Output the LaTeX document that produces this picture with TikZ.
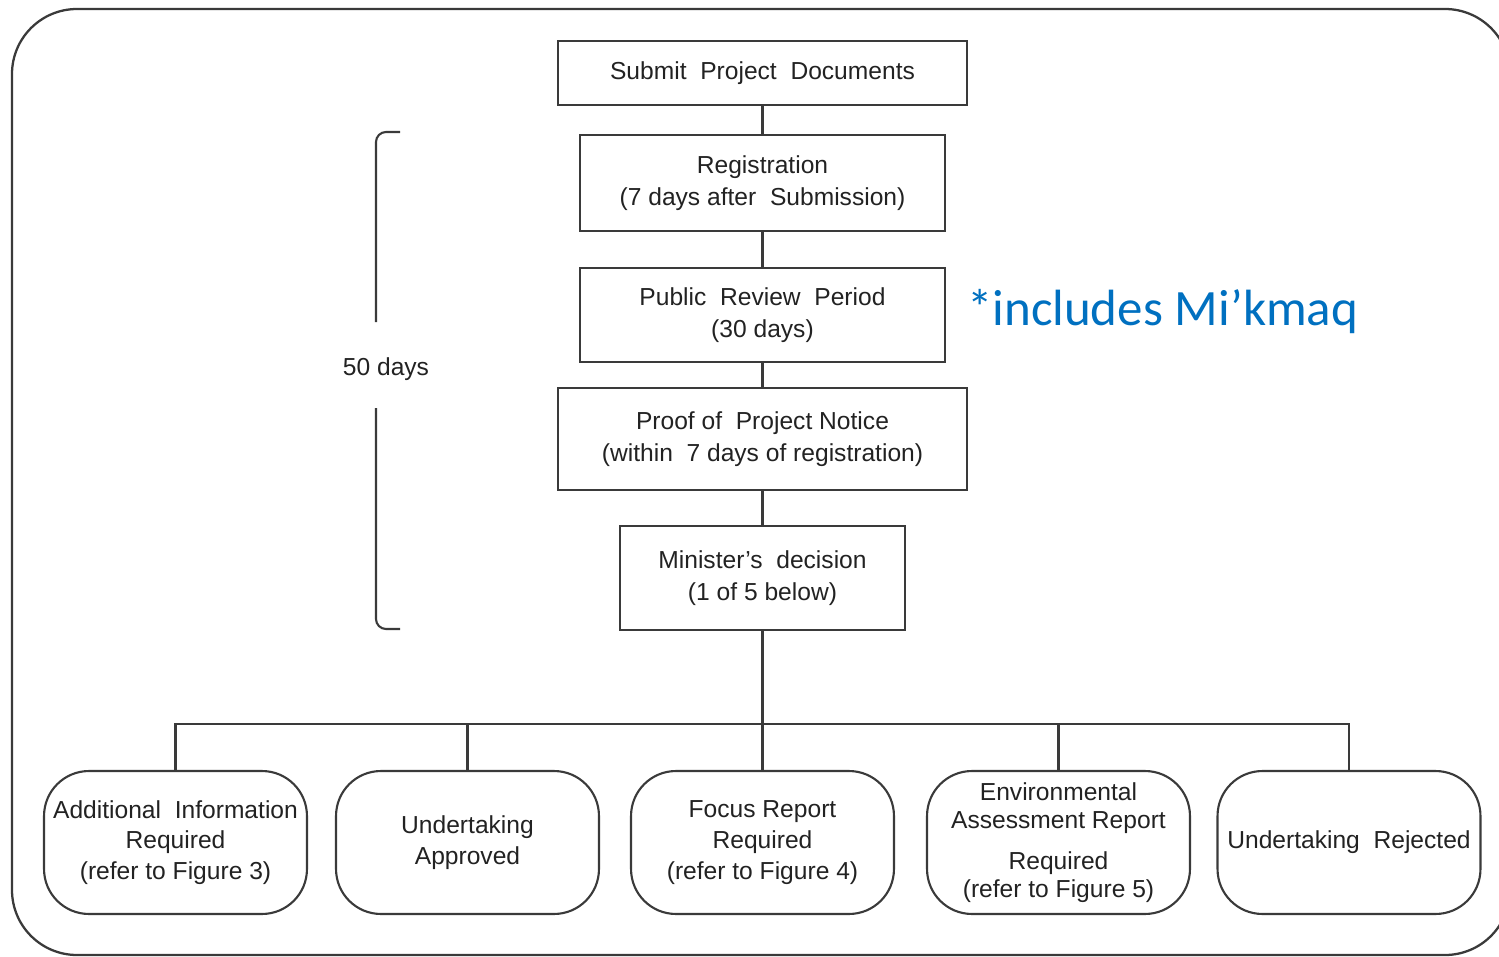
\documentclass[tikz,border=0pt]{standalone}
\usepackage{fontspec}
\setmainfont{Liberation Sans}
\newfontfamily\calib{Carlito}
\definecolor{lnc}{HTML}{3A3A3A}
\definecolor{txc}{HTML}{222222}
\definecolor{mkblue}{RGB}{0,112,192}
\begin{document}
\begin{tikzpicture}[x=0.02cm,y=-0.02cm,
  every node/.style={text=txc,font=\fontsize{14}{18}\selectfont},
  sqbox/.style={draw=lnc,line width=1.2pt,align=center,inner sep=0pt},
  rbox/.style={draw=lnc,line width=1.2pt,align=center,inner sep=0pt,
     rounded corners=0.9cm,minimum width=5.26cm,minimum height=2.86cm},
  conn/.style={draw=lnc,line width=1.2pt}]
\useasboundingbox (0,0) rectangle (1499,957);
\begin{scope}
\clip (0,0) rectangle (1499,957);
\draw[lnc,line width=1.3pt,rounded corners=1.3cm] (12,9) rectangle (1510,955);
\end{scope}

\node[sqbox,minimum width=8.18cm,minimum height=1.28cm] (sub) at (762.5,73) {Submit\ \ Project\ \ Documents};
\node[sqbox,minimum width=7.3cm,minimum height=1.92cm] (reg) at (762.5,183) {Registration\\(7 days after\ \ Submission)};
\node[sqbox,minimum width=7.3cm,minimum height=1.88cm] (pub) at (762.5,315) {Public\ \ Review\ \ Period\\(30 days)};
\node[sqbox,minimum width=8.18cm,minimum height=2.04cm] (proof) at (762.5,439) {Proof of\ \ Project Notice\\(within\ \ 7 days of registration)};
\node[sqbox,minimum width=5.7cm,minimum height=2.08cm] (min) at (762.5,578) {Minister's\ \ decision\\(1 of 5 below)};

\node[anchor=west,text=mkblue,font=\calib\fontsize{29}{34}\selectfont] (mk) at (961,312) {*includes Mi’kmaq};

\node (fifty) at (386,369) {50 days};
\draw[conn,rounded corners=0.2cm] (400,132) -- (376,132) -- (376,322);
\draw[conn,rounded corners=0.2cm] (376,408) -- (376,629) -- (400,629);

\node[rbox,font=\fontsize{14}{17.5}\selectfont] (b1) at (175.5,842.5) {Additional\ \ Information\\Required\\(refer to Figure 3)};
\node[rbox,font=\fontsize{14}{18}\selectfont] (b2) at (467.5,842.5) {Undertaking\\Approved};
\node[rbox,font=\fontsize{14}{17.5}\selectfont] (b3) at (762.5,842.5) {Focus Report\\Required\\(refer to Figure 4)};
\node[rbox,font=\fontsize{14}{16}\selectfont] (b4) at (1058.5,842.5) {Environmental\\Assessment Report\\[7pt]Required\\(refer to Figure 5)};
\node[rbox] (b5) at (1349,842.5) {Undertaking\ \ Rejected};

\draw[conn] (sub) -- (reg);
\draw[conn] (reg) -- (pub);
\draw[conn] (pub) -- (proof);
\draw[conn] (proof) -- (min);
\coordinate (bus) at (762.5,724);
\draw[conn] (min) -- (b3);
\draw[conn] (b1.north) |- (bus) -| (b5.north);
\draw[conn] (b2.north) -- (b2.north |- bus);
\draw[conn] (b4.north) -- (b4.north |- bus);
\end{tikzpicture}
\end{document}
